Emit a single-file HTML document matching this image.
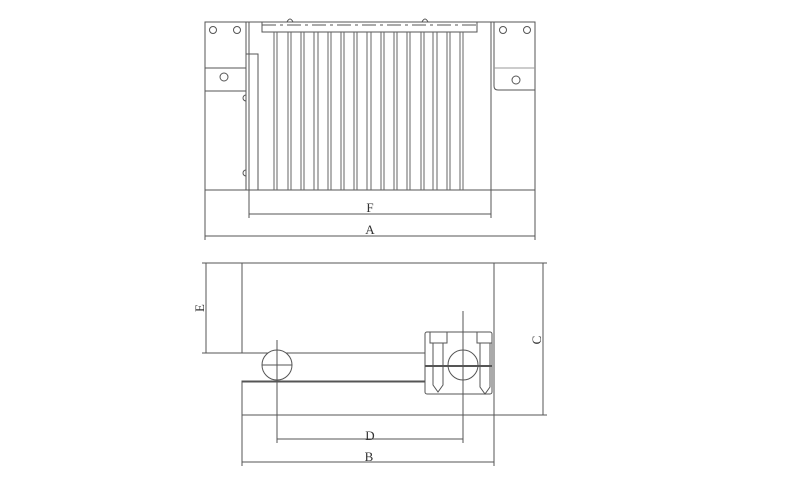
<!DOCTYPE html>
<html><head><style>body{margin:0;background:#fff}svg{display:block}</style></head><body>
<svg width="798" height="502" viewBox="0 0 798 502" xmlns="http://www.w3.org/2000/svg" fill="none" stroke="#555" stroke-width="1" font-family="Liberation Serif, serif">
<!-- Top view -->
<rect x="205" y="22" width="330" height="168"/>
<line x1="205" y1="190" x2="535" y2="190"/>
<line x1="205" y1="190" x2="205" y2="240"/>
<line x1="535" y1="190" x2="535" y2="240"/>
<line x1="249" y1="22" x2="249" y2="218"/>
<line x1="491" y1="22" x2="491" y2="218"/>
<!-- left bracket -->
<path d="M205 68 H246 V91 H205"/>
<line x1="246" y1="22" x2="246" y2="91"/>
<circle cx="213" cy="30" r="3.5"/><circle cx="237" cy="30" r="3.5"/><circle cx="224" cy="77" r="4"/>
<!-- right bracket -->
<path d="M494 22 V86 Q494 90 498 90 H535"/>
<line x1="494" y1="68" x2="535" y2="68" stroke="#999"/>
<circle cx="503" cy="30" r="3.5"/><circle cx="527" cy="30" r="3.5"/><circle cx="516" cy="80" r="4"/>
<!-- left panel -->
<rect x="246" y="54" width="12" height="136"/>
<path d="M246 95 a2 2 0 0 0 0 6 M246 170 a2 2 0 0 0 0 6"/>
<!-- top rail -->
<rect x="262" y="22" width="215" height="10"/>
<line x1="262" y1="25" x2="477" y2="25" stroke-dasharray="14 4 3 4"/>
<path d="M287 22 q3 -6 6 0 M422 22 q3 -6 6 0"/>
<!-- fins -->
<g stroke="#666">
<line x1="274" y1="32" x2="274" y2="190"/><line x1="277" y1="32" x2="277" y2="190"/>
<line x1="288" y1="32" x2="288" y2="190"/><line x1="291" y1="32" x2="291" y2="190"/>
<line x1="301" y1="32" x2="301" y2="190"/><line x1="304" y1="32" x2="304" y2="190"/>
<line x1="314" y1="32" x2="314" y2="190"/><line x1="318" y1="32" x2="318" y2="190"/>
<line x1="328" y1="32" x2="328" y2="190"/><line x1="331" y1="32" x2="331" y2="190"/>
<line x1="341" y1="32" x2="341" y2="190"/><line x1="344" y1="32" x2="344" y2="190"/>
<line x1="354" y1="32" x2="354" y2="190"/><line x1="357" y1="32" x2="357" y2="190"/>
<line x1="367" y1="32" x2="367" y2="190"/><line x1="371" y1="32" x2="371" y2="190"/>
<line x1="381" y1="32" x2="381" y2="190"/><line x1="384" y1="32" x2="384" y2="190"/>
<line x1="394" y1="32" x2="394" y2="190"/><line x1="397" y1="32" x2="397" y2="190"/>
<line x1="407" y1="32" x2="407" y2="190"/><line x1="410" y1="32" x2="410" y2="190"/>
<line x1="421" y1="32" x2="421" y2="190"/><line x1="424" y1="32" x2="424" y2="190"/>
<line x1="433" y1="32" x2="433" y2="190"/><line x1="437" y1="32" x2="437" y2="190"/>
<line x1="447" y1="32" x2="447" y2="190"/><line x1="450" y1="32" x2="450" y2="190"/>
<line x1="460" y1="32" x2="460" y2="190"/><line x1="463" y1="32" x2="463" y2="190"/>
</g>
<line x1="249" y1="214" x2="491" y2="214"/>
<line x1="205" y1="236" x2="535" y2="236"/>
<text x="370" y="212" font-size="13" fill="#333" stroke="none" text-anchor="middle">F</text>
<text x="370" y="234" font-size="13" fill="#333" stroke="none" text-anchor="middle">A</text>
<!-- Side view -->
<path d="M425 353 H242 V263 H494 V415 H242 V381 H425"/>
<line x1="242" y1="382" x2="425" y2="382"/>
<line x1="242" y1="415" x2="242" y2="466"/>
<line x1="494" y1="415" x2="494" y2="466"/>
<line x1="494" y1="263" x2="547" y2="263"/>
<line x1="494" y1="415" x2="547" y2="415"/>
<line x1="543" y1="263" x2="543" y2="415"/>
<line x1="202" y1="263" x2="242" y2="263"/>
<line x1="202" y1="353" x2="242" y2="353"/>
<line x1="206" y1="263" x2="206" y2="353"/>
<circle cx="277" cy="365" r="15" fill="#fff"/>
<line x1="262" y1="365" x2="292" y2="365"/>
<line x1="277" y1="340" x2="277" y2="443"/>
<!-- block -->
<rect x="425" y="332" width="67" height="62" rx="2"/>
<line x1="425" y1="366" x2="492" y2="366" stroke-width="2"/>
<circle cx="463" cy="365" r="15"/>
<line x1="463" y1="311" x2="463" y2="443"/>
<path d="M430 332 V343 H447 V332 M433 343 V385 L438 392 L443 385 V343"/>
<path d="M477 332 V343 H492 M480 343 V387 L485 394 L490 387 V343"/>
<line x1="277" y1="439" x2="463" y2="439"/>
<line x1="242" y1="462" x2="494" y2="462"/>
<text x="370" y="440" font-size="13" fill="#333" stroke="none" text-anchor="middle">D</text>
<text x="369" y="461" font-size="13" fill="#333" stroke="none" text-anchor="middle">B</text>
<text x="0" y="0" font-size="13" fill="#333" stroke="none" text-anchor="middle" transform="translate(204 308) rotate(-90)">E</text>
<text x="0" y="0" font-size="13" fill="#333" stroke="none" text-anchor="middle" transform="translate(541 340) rotate(-90)">C</text>
</svg>
</body></html>
